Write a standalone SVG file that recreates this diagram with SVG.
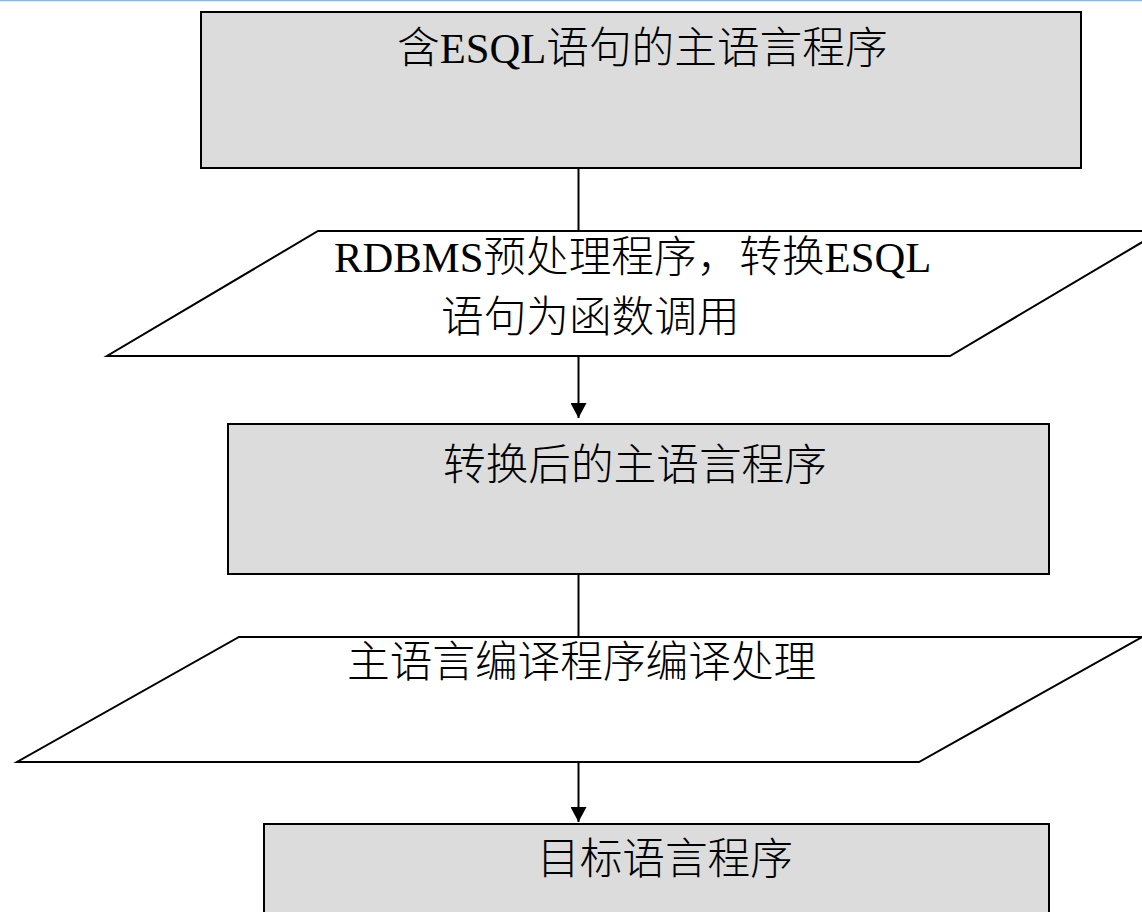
<svg xmlns="http://www.w3.org/2000/svg" width="1142" height="912" viewBox="0 0 1142 912">
  <style>
    .box { fill: #dcdcdc; stroke: #000; stroke-width: 2; }
    .para { fill: #fff; stroke: #000; stroke-width: 2; }
    .lbl { font-family: "Liberation Serif", "Noto Sans CJK SC", serif; font-size: 42.67px; font-weight: 300; fill: #000; }
    .conn { stroke: #000; stroke-width: 2; fill: none; }
  </style>
  <defs>
    <marker id="arrow" markerWidth="16" markerHeight="16" refX="15" refY="8" orient="auto" markerUnits="userSpaceOnUse">
      <path d="M0,0 L15,8 L0,16 Z" fill="#000"/>
    </marker>
  </defs>
  <rect x="0" y="0" width="1142" height="912" fill="#fff"/>
  <line x1="0" y1="0.5" x2="1142" y2="0.5" stroke="#8fb4d8" stroke-width="1.5"/>

  <g id="connectors">
    <line class="conn" x1="578.5" y1="168" x2="578.5" y2="231"/>
    <line class="conn" x1="578.5" y1="356" x2="578.5" y2="418" marker-end="url(#arrow)"/>
    <line class="conn" x1="578.5" y1="574" x2="578.5" y2="637"/>
    <line class="conn" x1="578.5" y1="762" x2="578.5" y2="822" marker-end="url(#arrow)"/>
  </g>

  <g id="node-source">
    <rect class="box" x="201" y="12" width="880" height="156"/>
    <text class="lbl" x="397" y="63">含ESQL语句的主语言程序</text>
  </g>

  <g id="node-preprocess">
    <polygon class="para" points="318,231 1161,231 950,356 107,356"/>
    <text class="lbl" x="334" y="272">RDBMS预处理程序，转换ESQL</text>
    <text class="lbl" x="441" y="332">语句为函数调用</text>
  </g>

  <g id="node-converted">
    <rect class="box" x="228" y="424" width="821" height="150"/>
    <text class="lbl" x="443" y="480">转换后的主语言程序</text>
  </g>

  <g id="node-compile">
    <polygon class="para" points="239,637 1142,637 919,762 17,762"/>
    <text class="lbl" x="347" y="677">主语言编译程序编译处理</text>
  </g>

  <g id="node-target">
    <rect class="box" x="264" y="824" width="785" height="100"/>
    <text class="lbl" x="537" y="874">目标语言程序</text>
  </g>
</svg>
